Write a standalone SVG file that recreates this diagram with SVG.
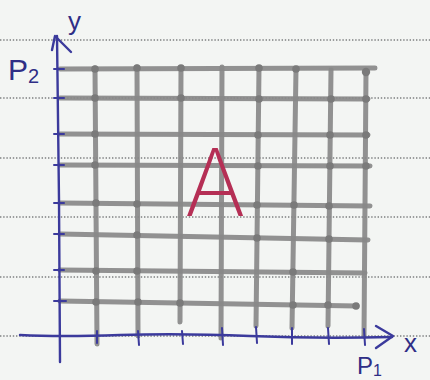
<svg xmlns="http://www.w3.org/2000/svg" width="430" height="380" viewBox="0 0 430 380">
<style>
.rule{stroke:#7d7f80;stroke-width:1.3;stroke-dasharray:1.4 1.8;fill:none}
.grid{stroke:#898989;stroke-width:5;stroke-linecap:round;fill:none;opacity:0.93}
.dot{fill:#7a7a7a}
.axis{stroke:#3b3a9c;stroke-width:2.4;fill:none;stroke-linecap:round;stroke-linejoin:round}
.tick{stroke:#3b3a9c;stroke-width:2;stroke-linecap:round}
.lbl{font-family:"Liberation Sans",sans-serif;fill:#2f2e86}
</style>
<rect width="430" height="380" fill="#f3f5f3"/>
<g id="ruling">
<line class="rule" x1="0" y1="40" x2="430" y2="40"/>
<line class="rule" x1="0" y1="98" x2="430" y2="98"/>
<line class="rule" x1="0" y1="158" x2="430" y2="158"/>
<line class="rule" x1="0" y1="217" x2="430" y2="217"/>
<line class="rule" x1="0" y1="277" x2="430" y2="277"/>
<line class="rule" x1="0" y1="336" x2="430" y2="336"/>
</g>
<g id="grid">
<line class="grid" x1="60" y1="69" x2="375" y2="68"/>
<line class="grid" x1="60" y1="98" x2="368" y2="99"/>
<line class="grid" x1="60" y1="134" x2="368" y2="135"/>
<line class="grid" x1="60" y1="165" x2="370" y2="166"/>
<line class="grid" x1="60" y1="203" x2="370" y2="206"/>
<line class="grid" x1="60" y1="234" x2="368" y2="240"/>
<line class="grid" x1="60" y1="270" x2="365" y2="273"/>
<line class="grid" x1="60" y1="301" x2="357" y2="306"/>
<line class="grid" x1="95" y1="68" x2="97" y2="344"/>
<line class="grid" x1="137" y1="67" x2="138" y2="336"/>
<line class="grid" x1="181" y1="68" x2="180" y2="322"/>
<line class="grid" x1="222" y1="67" x2="221" y2="338"/>
<line class="grid" x1="259" y1="68" x2="256" y2="326"/>
<line class="grid" x1="296" y1="69" x2="292" y2="328"/>
<line class="grid" x1="331" y1="70" x2="328" y2="326"/>
<line class="grid" x1="366" y1="72" x2="364" y2="336"/>
<g class="dot">
<circle cx="95" cy="69" r="3.8"/><circle cx="137" cy="68" r="3.8"/><circle cx="181" cy="68" r="3.8"/><circle cx="259" cy="68" r="3.8"/><circle cx="296" cy="69" r="3.8"/><circle cx="366" cy="72" r="4.2"/>
<circle cx="95" cy="98" r="3.8"/><circle cx="181" cy="98" r="3.8"/><circle cx="259" cy="99" r="3.8"/><circle cx="331" cy="99" r="3.8"/><circle cx="366" cy="99" r="3.8"/>
<circle cx="95" cy="134" r="3.8"/><circle cx="258" cy="135" r="3.8"/><circle cx="330" cy="135" r="3.8"/><circle cx="366" cy="135" r="3.8"/>
<circle cx="95" cy="165" r="3.8"/><circle cx="258" cy="166" r="3.8"/><circle cx="330" cy="166" r="3.8"/><circle cx="366" cy="166" r="3.8"/>
<circle cx="96" cy="203" r="3.8"/><circle cx="137" cy="204" r="3.8"/><circle cx="257" cy="205" r="3.8"/><circle cx="294" cy="205" r="3.8"/><circle cx="329" cy="206" r="3.8"/>
<circle cx="137" cy="235" r="3.8"/><circle cx="257" cy="238" r="3.8"/><circle cx="329" cy="239" r="3.8"/>
<circle cx="96" cy="271" r="3.8"/><circle cx="137" cy="271" r="3.8"/><circle cx="293" cy="272" r="3.8"/>
<circle cx="96" cy="302" r="3.8"/><circle cx="138" cy="302" r="3.8"/><circle cx="180" cy="303" r="3.8"/><circle cx="293" cy="305" r="3.8"/><circle cx="328" cy="305" r="3.8"/><circle cx="356" cy="306" r="3.8"/>
</g>
</g>
<g id="axes">
<path class="axis" d="M60 362 L59 200 L57 36"/>
<path class="axis" d="M52 50 L55 36 L71 52"/>
<path class="axis" d="M20 335 Q60 337 120 335 T250 336 T392 337"/>
<path class="axis" d="M376 326 L393 336 L376 348"/>
<g class="tick">
<line x1="54" y1="69" x2="64" y2="69"/><line x1="54" y1="98" x2="64" y2="98"/><line x1="54" y1="134" x2="64" y2="134"/><line x1="54" y1="165" x2="64" y2="165"/>
<line x1="54" y1="203" x2="64" y2="203"/><line x1="54" y1="234" x2="64" y2="234"/><line x1="54" y1="270" x2="64" y2="270"/><line x1="54" y1="301" x2="66" y2="301"/>
<line x1="97" y1="331" x2="97" y2="343"/><line x1="138" y1="331" x2="139" y2="345"/><line x1="182" y1="331" x2="183" y2="344"/><line x1="222" y1="328" x2="223" y2="345"/>
<line x1="256" y1="327" x2="257" y2="343"/><line x1="292" y1="328" x2="292" y2="344"/><line x1="328" y1="328" x2="329" y2="344"/><line x1="364" y1="329" x2="365" y2="345"/>
</g>
</g>
<g id="labels">
<text class="lbl" x="68" y="30" font-size="26">y</text>
<text class="lbl" x="8" y="80" font-size="30">P<tspan font-size="20" dy="3">2</tspan></text>
<text class="lbl" x="404" y="352" font-size="26">x</text>
<text class="lbl" x="357" y="374" font-size="24">P<tspan font-size="16" dy="2">1</tspan></text>
</g>
<g id="letter">
<text x="215" y="216" font-family="Inter, 'Liberation Sans', sans-serif" font-weight="170" font-size="94" text-anchor="middle" fill="#b52f55">A</text>
</g>
</svg>
